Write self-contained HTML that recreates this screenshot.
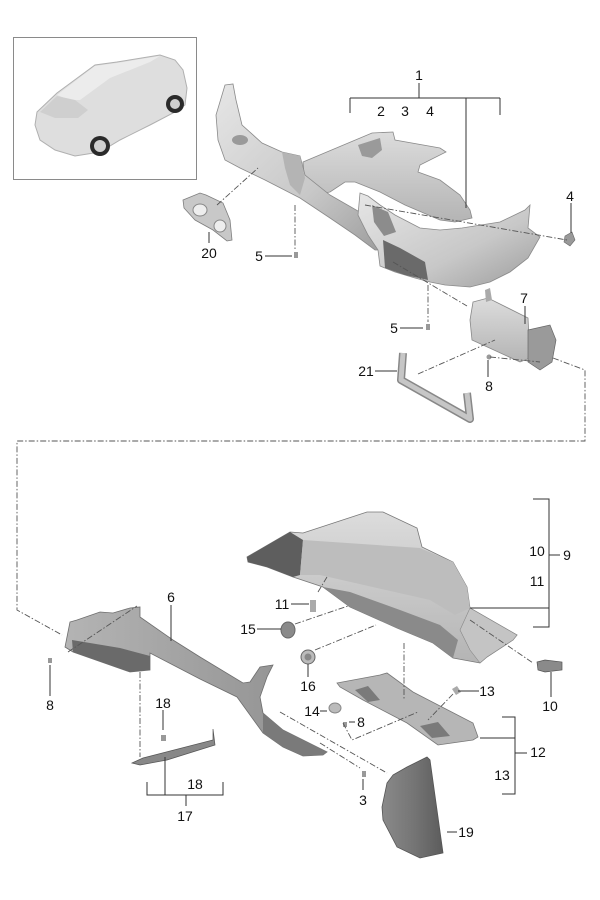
<!DOCTYPE html>
<html><head><meta charset="utf-8"><style>
html,body{margin:0;padding:0;background:#fff;}
svg{display:block;}
text{font-family:"Liberation Sans",sans-serif;font-size:14px;fill:#111;text-anchor:middle;}
</style></head><body>
<svg width="600" height="900" viewBox="0 0 600 900" xmlns="http://www.w3.org/2000/svg">
<defs>
<linearGradient id="g1" x1="0" y1="0" x2="1" y2="1"><stop offset="0" stop-color="#e6e6e6"/><stop offset="0.6" stop-color="#c8c8c8"/><stop offset="1" stop-color="#9c9c9c"/></linearGradient>
<linearGradient id="g2" x1="0" y1="0" x2="0" y2="1"><stop offset="0" stop-color="#dcdcdc"/><stop offset="1" stop-color="#b4b4b4"/></linearGradient>
<linearGradient id="g4" x1="0" y1="0" x2="1" y2="0"><stop offset="0" stop-color="#8a8a8a"/><stop offset="0.5" stop-color="#767676"/><stop offset="1" stop-color="#5c5c5c"/></linearGradient>
<linearGradient id="g5" x1="0" y1="0" x2="1" y2="0"><stop offset="0" stop-color="#b4b4b4"/><stop offset="1" stop-color="#8e8e8e"/></linearGradient>
</defs>

<!-- car inset -->
<rect x="13.5" y="37.5" width="183" height="142" fill="#fff" stroke="#8a8a8a" stroke-width="1"/>
<polygon points="37,112 57,93 95,65 117,62 160,55 175,60 183,70 187,88 185,105 175,112 150,125 120,140 100,152 75,156 55,150 40,140 35,125" fill="#dedede" stroke="#b0b0b0"/>
<polygon points="57,95 95,66 117,63 160,56 150,62 110,78 80,100 70,100" fill="#ececec"/>
<polygon points="40,112 57,96 75,100 88,110 78,118 55,118" fill="#cfcfcf"/>
<circle cx="100" cy="146" r="10" fill="#2a2a2a"/><circle cx="100" cy="146" r="6" fill="#cfcfcf"/>
<circle cx="175" cy="104" r="9" fill="#2a2a2a"/><circle cx="175" cy="104" r="5" fill="#cfcfcf"/>

<!-- part 1 main frame -->
<polygon points="303,162 372,133 393,132 395,140 440,148 446,152 420,165 418,172 440,180 460,195 470,210 472,218 455,222 440,220 405,205 380,192 355,182 345,182 330,192 315,195 305,185" fill="url(#g2)" stroke="#8a8a8a" stroke-width="0.8"/>
<polygon points="358,145 380,138 382,150 372,158 362,156" fill="#9a9a9a"/>
<polygon points="225,85 233,84 236,100 242,125 262,143 282,152 300,156 305,175 330,195 365,215 370,225 387,243 387,250 375,250 355,235 330,218 300,198 265,180 240,168 225,160 218,140 216,115" fill="url(#g1)" stroke="#8a8a8a" stroke-width="0.8"/>
<polygon points="282,152 300,156 305,178 300,195 290,185 285,168" fill="#b4b4b4"/>
<ellipse cx="240" cy="140" rx="8" ry="5" fill="#9a9a9a"/>
<polygon points="360,193 368,196 380,205 395,215 420,228 440,230 462,228 500,222 525,210 530,205 528,228 540,237 528,258 510,272 490,282 470,287 445,285 430,282 415,278 395,272 380,266 378,250 368,235 358,215" fill="url(#g1)" stroke="#8a8a8a" stroke-width="0.8"/>
<polygon points="383,240 400,248 425,262 428,280 405,275 385,268" fill="#6a6a6a"/>
<polygon points="372,205 388,212 396,232 384,236 374,222" fill="#8c8c8c"/>

<!-- part 20 -->
<polygon points="183,200 200,193 206,195 223,203 230,220 232,240 227,241 213,230 195,220 184,208" fill="#c8c8c8" stroke="#7e7e7e" stroke-width="0.8"/>
<ellipse cx="200" cy="210" rx="7" ry="6" fill="#eee" stroke="#888"/>
<ellipse cx="220" cy="226" rx="6" ry="6" fill="#eee" stroke="#888"/>

<!-- part 4 clip, screws -->
<polygon points="565,236 572,232 575,240 570,246 564,242" fill="#999" stroke="#666" stroke-width="0.6"/>
<rect x="294" y="252" width="4" height="6" fill="#999"/>
<rect x="426" y="324" width="4" height="6" fill="#999"/>
<circle cx="489" cy="357" r="2.5" fill="#999"/>

<!-- part 7 -->
<polygon points="473,302 488,298 528,318 530,358 520,362 472,340 470,320" fill="url(#g2)" stroke="#888" stroke-width="0.8"/>
<polygon points="485,290 490,288 492,300 486,302" fill="#aaa"/>
<polygon points="528,330 550,325 556,340 552,362 540,370 528,362" fill="#9a9a9a" stroke="#666" stroke-width="0.7"/>

<!-- part 21 handle -->
<polyline points="403,353 401,380 470,419 467,393" fill="none" stroke="#888" stroke-width="8" stroke-linejoin="round"/>
<polyline points="403,353 401,380 470,419 467,393" fill="none" stroke="#c6c6c6" stroke-width="5" stroke-linejoin="round"/>

<!-- part 9 glove box -->
<polygon points="247,557 290,532 303,533 367,512 383,512 417,528 422,547 453,562 467,587 470,608 517,635 513,640 487,657 480,663 453,658 433,643 397,628 350,607 323,587 293,577 267,567 248,562" fill="url(#g2)" stroke="#777" stroke-width="0.8"/>
<polygon points="247,557 290,532 303,540 300,575 293,577 267,567 248,562" fill="#5e5e5e"/>
<polygon points="303,540 420,548 453,562 467,587 470,608 455,615 430,600 320,575 300,575" fill="#bdbdbd"/>
<polygon points="323,587 350,607 397,628 433,643 453,658 458,640 440,625 400,610 350,592" fill="#8a8a8a"/>
<polygon points="470,608 517,635 513,640 487,657 480,663 470,650 460,630" fill="#c4c4c4" stroke="#888" stroke-width="0.6"/>

<!-- part 6 -->
<polygon points="70,622 77,620 100,612 113,613 130,608 140,607 140,617 173,640 200,657 243,683 250,682 260,667 273,665 267,677 260,697 263,713 283,730 327,752 323,755 303,756 283,747 263,733 250,715 237,697 200,679 150,653 150,670 130,672 73,652 65,647" fill="url(#g5)" stroke="#6e6e6e" stroke-width="0.8"/>
<polygon points="72,640 120,648 150,656 150,670 130,672 73,652" fill="#6a6a6a"/>
<polygon points="263,713 283,730 327,752 323,755 303,756 283,747 263,733" fill="#7a7a7a"/>

<!-- part 17/18 strip -->
<polygon points="132,763 143,758 213,740 213,729 215,745 167,760 140,765" fill="#888" stroke="#555" stroke-width="0.7"/>

<!-- small parts lower -->
<polygon points="310,600 316,600 316,612 310,612" fill="#aaa"/>
<ellipse cx="288" cy="630" rx="7" ry="8" fill="#8a8a8a" stroke="#666"/>
<circle cx="308" cy="657" r="7" fill="#bbb" stroke="#666"/><circle cx="308" cy="657" r="3.5" fill="#888"/>
<polygon points="537,662 545,660 562,662 562,670 545,672 538,670" fill="#8a8a8a" stroke="#555" stroke-width="0.7"/>
<polygon points="452,689 457,686 461,692 456,695" fill="#aaa"/>
<ellipse cx="335" cy="708" rx="6" ry="5" fill="#bbb" stroke="#888"/>
<rect x="343" y="722" width="4" height="5" fill="#999"/>
<rect x="362" y="771" width="4" height="6" fill="#999"/>
<rect x="48" y="658" width="4" height="5" fill="#999"/>
<rect x="161" y="735" width="5" height="6" fill="#999"/>

<!-- part 12 -->
<polygon points="337,683 380,675 387,673 413,692 473,723 478,737 473,740 438,745 407,723 363,700 340,687" fill="#b6b6b6" stroke="#777" stroke-width="0.8"/>
<polygon points="355,690 368,686 380,700 368,702" fill="#7a7a7a"/>
<polygon points="420,726 438,722 450,736 432,738" fill="#7a7a7a"/>

<!-- part 19 -->
<polygon points="393,775 407,767 427,757 430,760 443,853 420,858 397,847 383,820 382,807 387,783" fill="url(#g4)" stroke="#555" stroke-width="0.8"/>

<!-- leader lines -->
<g stroke="#333" stroke-width="1" fill="none">
<path d="M419,83V98M350,98H500M350,98V113M500,98V115M466,98V208"/>
<path d="M571,203V233"/>
<path d="M209,243V232"/>
<path d="M265,256H292"/>
<path d="M400,328H423"/>
<path d="M525,306V324"/>
<path d="M375,371H397"/>
<path d="M488,377V360"/>
<path d="M533,499H549V627H533M549,555H560M470,608H549"/>
<path d="M291,604H309"/>
<path d="M257,629H281"/>
<path d="M308,677V664"/>
<path d="M551,697V672"/>
<path d="M458,691H479"/>
<path d="M320,711H327"/>
<path d="M349,722H355"/>
<path d="M502,717H515V794H502M515,753H527M480,738H515"/>
<path d="M363,790V779"/>
<path d="M447,832H457"/>
<path d="M171,605V641"/>
<path d="M50,696V665"/>
<path d="M163,710V730"/>
<path d="M147,782V795H223V782M165,757V795M186,795V806"/>
</g>

<!-- dash-dot lines -->
<g stroke="#555" stroke-width="0.9" fill="none" stroke-dasharray="6 2 1.5 2">
<path d="M217,205L258,168"/>
<path d="M295,205V250"/>
<path d="M365,205L567,240"/>
<path d="M393,262L467,306"/>
<path d="M428,285V322"/>
<path d="M418,374L495,340"/>
<path d="M490,357L540,362"/>
<path d="M553,358L585,370V441H17V610L62,635"/>
<path d="M68,652L137,606"/>
<path d="M140,672V757"/>
<path d="M318,592L327,577"/>
<path d="M295,624L348,606"/>
<path d="M315,650L376,625"/>
<path d="M404,643V700"/>
<path d="M470,620L533,663"/>
<path d="M453,694L428,720"/>
<path d="M343,723L352,740L418,712"/>
<path d="M280,712L387,773"/>
<path d="M320,743L360,768"/>
</g>

<!-- labels -->
<text x="419" y="80">1</text>
<text x="381" y="116">2</text><text x="405" y="116">3</text><text x="430" y="116">4</text>
<text x="570" y="201">4</text>
<text x="209" y="258">20</text>
<text x="259" y="261">5</text>
<text x="394" y="333">5</text>
<text x="524" y="303">7</text>
<text x="366" y="376">21</text>
<text x="489" y="391">8</text>
<text x="537" y="556">10</text><text x="567" y="560">9</text><text x="537" y="586">11</text>
<text x="282" y="609">11</text>
<text x="248" y="634">15</text>
<text x="308" y="691">16</text>
<text x="550" y="711">10</text>
<text x="487" y="696">13</text>
<text x="312" y="716">14</text>
<text x="361" y="727">8</text>
<text x="538" y="757">12</text>
<text x="502" y="780">13</text>
<text x="363" y="805">3</text>
<text x="466" y="837">19</text>
<text x="171" y="602">6</text>
<text x="50" y="710">8</text>
<text x="163" y="708">18</text>
<text x="195" y="789">18</text>
<text x="185" y="821">17</text>
</svg>
</body></html>
